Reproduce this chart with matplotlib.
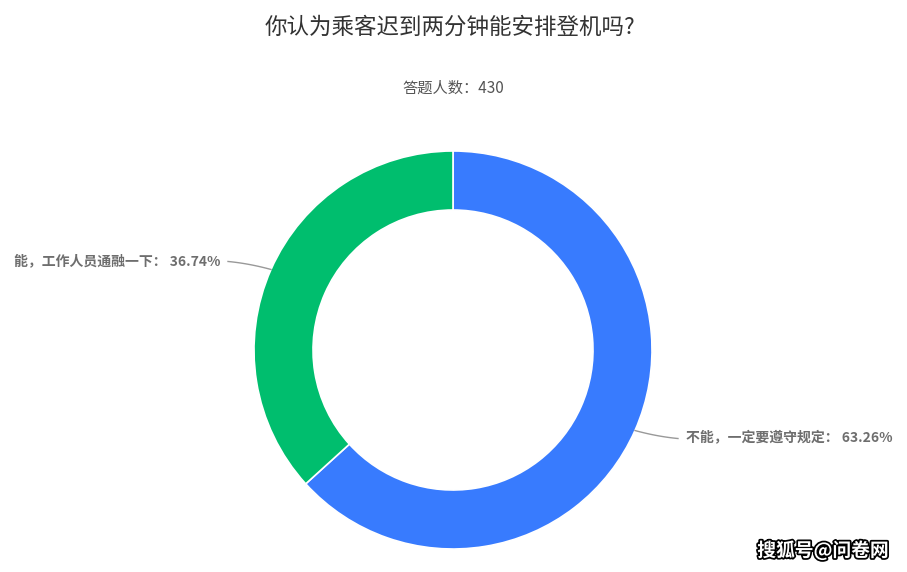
import matplotlib.pyplot as plt
import matplotlib.patheffects as pe
import numpy as np

plt.rcParams['font.family'] = ['Noto Sans CJK SC', 'DejaVu Sans']

title = "你认为乘客迟到两分钟能安排登机吗?"
subtitle = "答题人数：430"
labels = ["不能，一定要遵守规定", "能，工作人员通融一下"]
values = [63.26, 36.74]
colors = ["#387bfe", "#00be6e"]

W, H = 907, 572
fig = plt.figure(figsize=(W / 100, H / 100), dpi=100)
ax = fig.add_axes([0, 0, 1, 1])
ax.set_xlim(0, W)
ax.set_ylim(0, H)
ax.axis("off")

cx, cy = 453, H - 350
r_out, r_in = 199, 140

wedges, _ = ax.pie(values, colors=colors, startangle=90, counterclock=False,
                   center=(cx, cy), radius=r_out,
                   wedgeprops=dict(width=r_out - r_in, edgecolor="white", linewidth=1.2))
ax.set_xlim(0, W)
ax.set_ylim(0, H)
ax.set_aspect("auto")

# labels with curved leader lines
for w, lab, v in zip(wedges, labels, values):
    mid = np.deg2rad((w.theta1 + w.theta2) / 2)
    x0 = cx + r_out * np.cos(mid)
    y0 = cy + r_out * np.sin(mid)
    side = 1 if np.cos(mid) > 0 else -1
    x1 = x0 + side * 22
    y1 = y0 + (6 if side < 0 else -6)
    x2 = x0 + side * 43
    y2 = y1 + (1 if side < 0 else -1) * 2
    t = np.linspace(0, 1, 30)
    bx = (1 - t) ** 2 * x0 + 2 * (1 - t) * t * x1 + t ** 2 * x2
    by = (1 - t) ** 2 * y0 + 2 * (1 - t) * t * y1 + t ** 2 * y2
    ax.plot(bx, by, color="#999999", lw=1)
    ax.text(x2 + side * 8, y2, f"{lab}： {v:.2f}%", ha="left" if side > 0 else "right",
            va="center", fontsize=10.0, fontweight="bold", color="#6e6e6e")

ax.text(W / 2 - 4, H - 27, title, ha="center", va="center", fontsize=16.2, color="#333333")
ax.text(W / 2, H - 88, subtitle, ha="center", va="center", fontsize=11, color="#555555")

ax.text(823, H - 551, "搜狐号@问卷网", ha="center", va="center", fontsize=13.5,
        fontweight="bold", color="white",
        path_effects=[pe.withStroke(linewidth=2.5, foreground="black")])

fig.savefig("out.png", dpi=100)
